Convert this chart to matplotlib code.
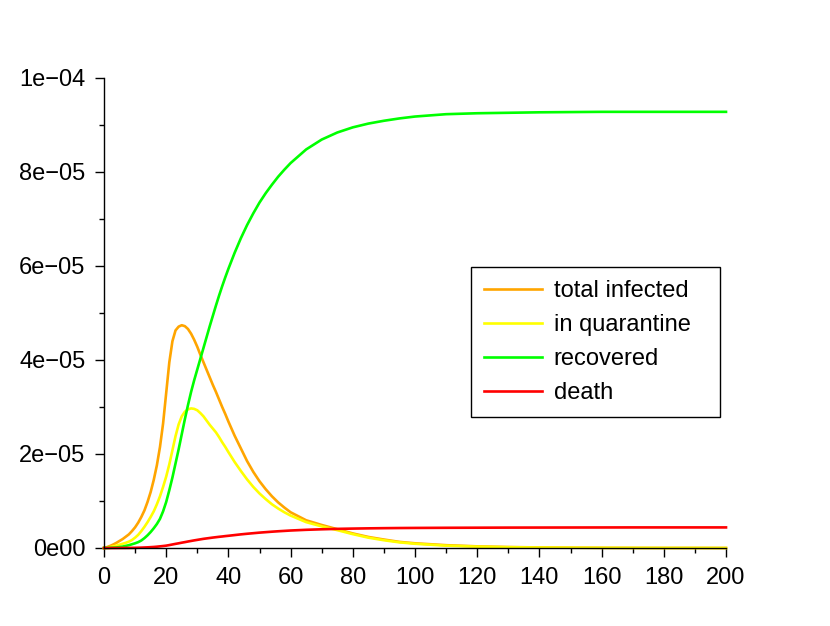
import matplotlib
matplotlib.use("Agg")
import matplotlib.pyplot as plt
from matplotlib.ticker import FixedLocator, FixedFormatter, MultipleLocator

plt.rcParams['font.family'] = ['Liberation Sans', 'DejaVu Sans']

# time (days)
t = list(range(0, 41)) + list(range(42, 61, 2)) + list(range(65, 101, 5)) + list(range(110, 201, 10))

# values in units of 1e-6
total_infected = [0, 0.2, 0.45, 0.75, 1.1, 1.5, 1.9, 2.4, 2.9, 3.6,
                  4.4, 5.4, 6.6, 8.0, 9.8, 11.9, 14.5, 17.6, 21.5, 26.5,
                  33.0, 39.5, 44.0, 46.3, 47.1, 47.4, 47.2, 46.6, 45.6, 44.3,
                  42.8, 41.1, 39.5, 37.9, 36.3, 34.7, 33.2, 31.6, 30.0, 28.5,
                  26.9,
                  23.9, 21.2, 18.5, 16.2, 14.2, 12.5, 11.0, 9.7, 8.6, 7.6,
                  5.9, 4.9, 4.0, 3.1, 2.35, 1.8, 1.3, 1.0,
                  0.6, 0.35, 0.2, 0.12, 0.07, 0.04, 0.02, 0.01, 0.01, 0.0]
in_quarantine = [0, 0.08, 0.2, 0.35, 0.5, 0.7, 0.9, 1.1, 1.35, 1.7,
                 2.2, 2.8, 3.6, 4.5, 5.5, 6.6, 7.8, 9.3, 11.0, 13.0,
                 15.2, 17.8, 20.8, 23.8, 26.3, 28.0, 29.0, 29.5, 29.7, 29.6,
                 29.3, 28.7, 28.0, 27.1, 26.2, 25.4, 24.6, 23.6, 22.5, 21.5,
                 20.4,
                 18.3, 16.4, 14.6, 13.0, 11.6, 10.4, 9.3, 8.4, 7.6, 6.9,
                 5.5, 4.6, 3.8, 2.95, 2.2, 1.65, 1.2, 0.9,
                 0.5, 0.3, 0.17, 0.1, 0.06, 0.03, 0.02, 0.01, 0.01, 0.0]
recovered = [0, 0.02, 0.05, 0.08, 0.12, 0.2, 0.3, 0.45, 0.6, 0.8,
             1.0, 1.25, 1.6, 2.1, 2.7, 3.4, 4.2, 5.1, 6.2, 7.8,
             9.8, 12.3, 15.0, 18.0, 21.0, 24.2, 27.4, 30.4, 33.2, 35.7,
             38.0, 40.3, 42.6, 44.9, 47.2, 49.4, 51.6, 53.7, 55.7, 57.6,
             59.4,
             62.8, 65.9, 68.7, 71.2, 73.5, 75.5, 77.3, 79.0, 80.5, 81.9,
             84.8, 86.9, 88.4, 89.5, 90.3, 90.9, 91.4, 91.8,
             92.3, 92.5, 92.6, 92.7, 92.75, 92.8, 92.8, 92.8, 92.8, 92.8]
death = [0, 0, 0, 0, 0.005, 0.01, 0.01, 0.015, 0.02, 0.03,
         0.04, 0.06, 0.08, 0.11, 0.14, 0.18, 0.22, 0.28, 0.35, 0.42,
         0.5, 0.62, 0.75, 0.88, 1.0, 1.13, 1.25, 1.38, 1.5, 1.62,
         1.73, 1.84, 1.95, 2.04, 2.13, 2.22, 2.3, 2.38, 2.45, 2.53,
         2.6,
         2.75, 2.9, 3.03, 3.15, 3.27, 3.37, 3.47, 3.56, 3.64, 3.72,
         3.87, 3.98, 4.07, 4.13, 4.18, 4.22, 4.25, 4.27,
         4.3, 4.32, 4.34, 4.35, 4.36, 4.37, 4.38, 4.38, 4.38, 4.38]

series = [
    ("total infected", total_infected, "#FFA500"),
    ("in quarantine", in_quarantine, "#FFFF00"),
    ("recovered", recovered, "#00FF00"),
    ("death", death, "#FF0000"),
]

y_ticks = [0, 2e-5, 4e-5, 6e-5, 8e-5, 1e-4]
y_labels = ["0e00", "2e\u221205", "4e\u221205", "6e\u221205", "8e\u221205", "1e\u221204"]

fig = plt.figure(figsize=(8.3, 6.26), dpi=100)
ax = fig.add_axes([104 / 830, 1 - 548 / 626, 622 / 830, 470 / 626])

for name, vals, col in series:
    ax.plot(t, [v * 1e-6 for v in vals], color=col, linewidth=1.9, label=name, clip_on=False)

ax.set_xlim(0, 200)
ax.set_ylim(0, 1e-4)
ax.spines['top'].set_visible(False)
ax.spines['right'].set_visible(False)
ax.spines['left'].set_linewidth(1.0)
ax.spines['bottom'].set_linewidth(1.0)

ax.xaxis.set_major_locator(MultipleLocator(20))
ax.xaxis.set_minor_locator(MultipleLocator(10))
ax.yaxis.set_major_locator(FixedLocator(y_ticks))
ax.yaxis.set_major_formatter(FixedFormatter(y_labels))
ax.yaxis.set_minor_locator(MultipleLocator(1e-5))
ax.tick_params(which='major', length=6.5, width=1.0, labelsize=17, pad=7)
ax.tick_params(which='minor', length=3.4, width=1.0)

leg = ax.legend(loc='upper left', bbox_to_anchor=(471 / 830, 1 - 267 / 626 - 0.01, 249 / 830, 0.01),
                bbox_transform=fig.transFigure, mode='expand', borderaxespad=0,
                fontsize=17, fancybox=False, framealpha=1, edgecolor='black',
                handlelength=2.45, handletextpad=0.5, labelspacing=0.51, borderpad=0.55)
leg.get_frame().set_linewidth(1.0)

fig.savefig("out.png", dpi=100)
